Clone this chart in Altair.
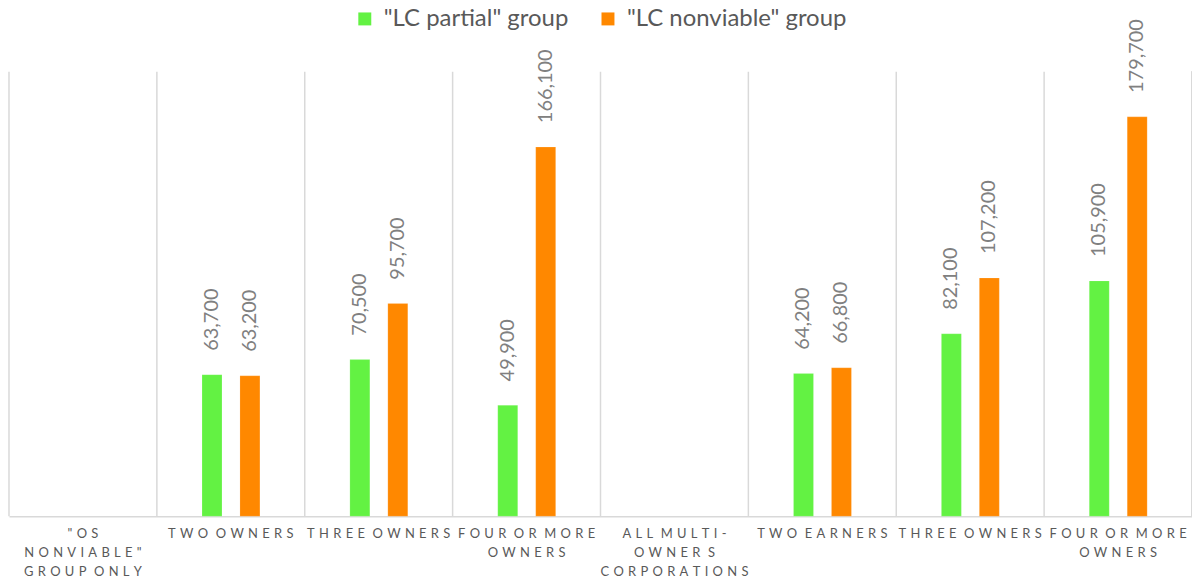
import altair as alt
import pandas as pd

# Category labels (lines of each label)
categories = [
    ['"OS', 'NONVIABLE"', 'GROUP ONLY'],
    ['TWO OWNERS'],
    ['THREE OWNERS'],
    ['FOUR OR MORE', 'OWNERS'],
    ['ALL MULTI-', 'OWNER S', 'CORPORATIONS'],
    ['TWO EARNERS'],
    ['THREE OWNERS'],
    ['FOUR OR MORE', 'OWNERS'],
]
series = ['"LC partial" group', '"LC nonviable" group']
partial = [None, 63700, 70500, 49900, None, 64200, 82100, 105900]
nonviable = [None, 63200, 95700, 166100, None, 66800, 107200, 179700]
colors = ["#63F243", "#FF8800"]

rows = []
for i in range(len(categories)):
    for s, vals in zip(series, [partial, nonviable]):
        if vals[i] is not None:
            rows.append({"idx": i, "series": s, "value": vals[i]})
df = pd.DataFrame(rows)
grid_df = pd.DataFrame({"idx": list(range(len(categories)))})

GAP = "\u2004"
WORD = GAP + " "
def spaced(line):
    return WORD.join(GAP.join(list(w)) for w in line.split(" "))

label_js = "[" + ",".join(
    "[" + ",".join("'" + spaced(l).replace("'", "\\'") + "'" for l in lines) + "]"
    for lines in categories
) + "]"

W, H = 1187, 446
FONT = "Lato"

xscale = alt.Scale(domain=list(range(len(categories))), paddingInner=0, paddingOuter=0)
xaxis = alt.Axis(labelExpr=f"{label_js}[datum.value]", labelAngle=0,
                 labelFontSize=13, labelColor="#595959", labelFont=FONT,
                 labelLineHeight=19, labelPadding=11, labelBaseline="top",
                 labelLimit=200, ticks=False, grid=False,
                 domainColor="#d9d9d9", domainWidth=1.5)
xenc = alt.X("idx:O", scale=xscale, title=None, axis=xaxis)
yscale = alt.Scale(domain=[0, 200000], nice=False)
off = alt.XOffset("series:N", sort=series,
                  scale=alt.Scale(domain=series, range=[45.3, 103.4],
                                  paddingInner=0.474, paddingOuter=0))

grid = alt.Chart(grid_df).mark_rule(color="#d9d9d9", strokeWidth=1.5).encode(
    x=alt.X("idx:O", scale=xscale, bandPosition=0, title=None, axis=xaxis),
    y=alt.value(0), y2=alt.value(H))
right = alt.Chart(grid_df).mark_rule(color="#d9d9d9", strokeWidth=1.5).encode(
    x=alt.value(W), y=alt.value(0), y2=alt.value(H))

bars = alt.Chart(df).mark_bar(stroke="#ffffff", strokeOpacity=0.3, strokeWidth=0.5).encode(
    x=xenc,
    xOffset=off,
    y=alt.Y("value:Q", scale=yscale, axis=None),
    color=alt.Color("series:N", sort=series,
                    scale=alt.Scale(domain=series, range=colors),
                    legend=alt.Legend(title=None, orient="none", direction="horizontal",
                                      legendX=345, legendY=-65, symbolType="square",
                                      symbolSize=169, symbolStrokeWidth=0,
                                      labelFontSize=24, labelColor="#595959", labelFont=FONT,
                                      labelLimit=400, columnPadding=27, symbolOffset=0,
                                      labelOffset=7)),
)
labels = alt.Chart(df).mark_text(angle=270, align="left", baseline="middle", dx=24,
                                 fontSize=20, color="#808080", font=FONT).encode(
    x=xenc, xOffset=off,
    y=alt.Y("value:Q", scale=yscale, axis=None),
    text=alt.Text("value:Q", format=",.0f"),
)

chart = alt.layer(grid, right, bars, labels).properties(
    width=W, height=H,
    autosize=alt.AutoSizeParams(type="none"),
    padding={"left": 1, "top": 63, "right": 0, "bottom": 63},
).configure_view(stroke=None)

chart.save("out.html", embed_options={"renderer": "svg", "actions": False})
